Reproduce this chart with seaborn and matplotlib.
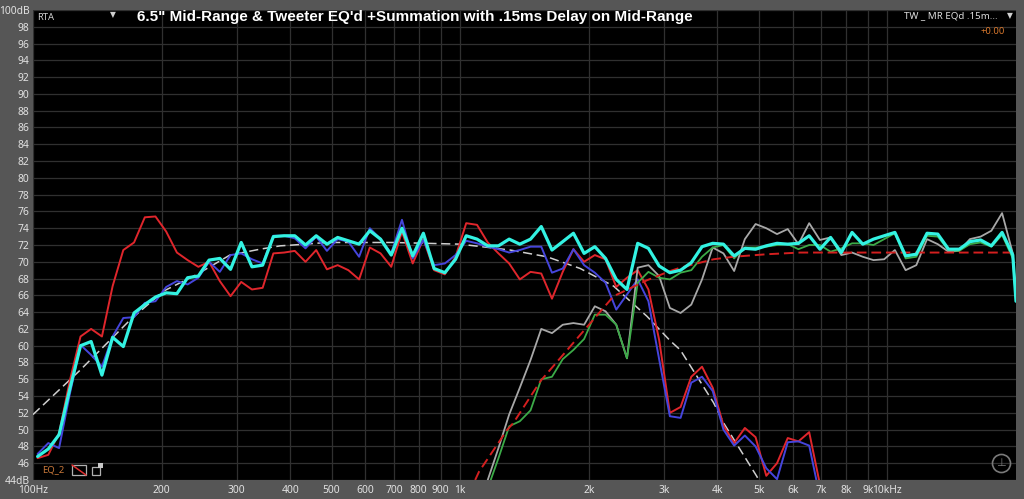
import numpy as np
import pandas as pd
import matplotlib.pyplot as plt
import seaborn as sns
from matplotlib.patches import Rectangle
from matplotlib.lines import Line2D

nan = np.nan

# RTA points, 1/12 octave (Hz) - last one is the 20k edge
freq = [102.5, 108.6, 115.1, 121.9, 129.2, 136.8, 145.0, 153.6, 162.7, 172.4,
        182.7, 193.5, 205.0, 217.2, 230.1, 243.8, 258.3, 273.7, 290.0, 307.2,
        325.5, 344.8, 365.3, 387.1, 410.0, 434.4, 460.2, 487.6, 516.6, 547.3,
        579.9, 614.4, 650.9, 689.6, 730.6, 774.1, 820.0, 868.8, 920.5, 975.2,
        1033, 1095, 1160, 1229, 1302, 1379, 1461, 1548, 1640, 1738,
        1841, 1950, 2066, 2189, 2319, 2457, 2603, 2758, 2922, 3096,
        3280, 3475, 3682, 3900, 4133, 4378, 4638, 4914, 5206, 5516,
        5844, 6191, 6560, 6950, 7363, 7801, 8265, 8756, 9277, 9828,
        10412, 11032, 11687, 12382, 13120, 13900, 14726, 15602, 16530, 17513,
        18554, 19657, 20000]

# summation (cyan)
sum_db = [46.8, 47.7, 49.4, 54.8, 60.0, 60.5, 56.5, 61.0, 59.9, 63.9,
          64.9, 65.8, 66.3, 66.2, 68.1, 68.3, 70.2, 70.4, 69.1, 72.3,
          69.4, 69.6, 73.0, 73.1, 73.1, 72.0, 73.1, 72.1, 72.9, 72.5,
          72.1, 73.7, 72.7, 70.8, 74.0, 70.7, 73.4, 69.2, 68.7, 70.3,
          73.1, 72.7, 71.9, 71.9, 72.7, 72.1, 72.7, 74.2, 71.4, 72.4,
          73.4, 71.0, 71.8, 70.4, 67.9, 66.7, 72.2, 71.6, 69.5, 68.7,
          69.0, 69.9, 71.8, 72.2, 72.1, 70.7, 71.6, 71.5, 71.9, 72.2,
          72.1, 72.2, 73.1, 71.5, 72.9, 71.1, 73.5, 72.1, 72.7, 73.1,
          73.5, 70.7, 70.9, 73.4, 73.3, 71.5, 71.5, 72.4, 72.6, 71.9,
          73.5, 70.8, 65.3]

# mid-range EQ'd (blue)
mid_eq_db = [47.1, 48.4, 47.8, 54.2, 60.1, 58.9, 57.5, 61.1, 63.3, 63.4,
             65.1, 65.3, 67.0, 67.7, 67.3, 68.1, 70.0, 68.8, 70.8, 71.0,
             70.3, 69.8, 73.1, 73.1, 72.8, 71.6, 73.0, 71.3, 72.7, 72.4,
             70.6, 74.0, 72.7, 71.0, 75.0, 70.4, 72.6, 69.6, 69.8, 70.8,
             72.5, 72.2, 71.8, 71.5, 71.1, 71.4, 71.8, 71.8, 68.7, 69.2,
             71.5, 69.6, 68.7, 67.5, 64.3, 66.1, 67.9, 65.3, 58.4, 51.6,
             51.4, 55.6, 56.3, 54.6, 50.0, 48.1, 49.3, 48.0, 45.4, 44.1,
             48.5, 48.6, 48.1, 42.0, 38.0] + [nan] * 18

# mid-range (red)
mid_db = [46.6, 47.0, 49.6, 55.8, 61.1, 62.0, 61.1, 67.1, 71.4, 72.3,
          75.3, 75.4, 73.6, 71.1, 70.2, 69.4, 70.0, 67.7, 65.9, 67.6,
          66.7, 66.9, 71.0, 71.1, 71.3, 70.0, 71.4, 69.1, 69.6, 69.0,
          67.9, 71.7, 71.0, 69.4, 73.6, 69.8, 72.7, 69.0, 68.5, 70.6,
          74.6, 74.4, 72.3, 71.0, 69.8, 67.9, 68.8, 68.6, 65.6, 68.8,
          71.5, 70.0, 70.8, 70.3, 67.0, 68.1, 69.0, 66.7, 60.7, 52.0,
          52.7, 56.3, 57.5, 55.0, 50.5, 48.4, 50.2, 49.1, 44.5, 46.0,
          49.0, 48.6, 49.7, 43.5, 38.0] + [nan] * 18

# tweeter EQ'd (green)
tw_eq_db = [nan] * 41 + [
    40.0, 43.0, 46.6, 50.4, 51.0, 52.3, 56.0, 56.3, 58.4,
    59.5, 60.8, 63.7, 63.7, 62.5, 58.5, 67.5, 68.8, 68.1, 67.9,
    68.7, 69.0, 70.6, 71.7, 72.0, 70.4, 71.7, 71.7, 71.8, 72.0,
    72.1, 71.5, 72.0, 72.0, 71.2, 71.6, 72.2, 72.2, 72.0, 72.7,
    73.4, 70.4, 70.6, 73.1, 73.0, 71.4, 71.3, 72.1, 72.3, 71.8,
    73.2, 70.4, 65.3]

# tweeter (gray)
tw_db = [nan] * 41 + [
    40.0, 44.0, 47.8, 51.8, 55.0, 58.3, 62.0, 61.5, 62.5,
    62.7, 62.5, 64.7, 64.1, 62.5, 58.5, 69.3, 69.6, 68.3, 64.5,
    63.9, 64.9, 67.9, 71.7, 71.0, 68.9, 72.7, 74.5, 74.0, 73.3,
    73.9, 72.1, 74.6, 72.6, 72.9, 70.8, 71.1, 70.6, 70.2, 70.3,
    71.4, 69.0, 69.6, 72.7, 72.1, 71.2, 71.3, 72.7, 73.0, 73.7,
    75.8, 71.0, 65.5]

# target curves
mid_target_freq = [100, 129, 169, 202, 242, 289, 340, 379, 407, 487, 698, 1000,
                   1309, 1596, 1910, 2286, 2737, 3100, 3275, 3919, 4136, 4951, 5200]
mid_target_db = [51.8, 57.1, 63.1, 66.5, 68.5, 70.8, 71.5, 71.9, 72.0, 72.3, 72.3, 72.1,
                 71.4, 70.6, 69.2, 67.1, 63.5, 60.6, 59.5, 53.2, 50.8, 44.4, 42.0]
tw_target_freq = [1084, 1107, 1289, 1332, 1542, 1910, 2286, 2737, 3100, 3275,
                  3919, 4364, 5224, 6254, 8000, 12000, 20000]
tw_target_db = [44.0, 45.0, 50.0, 50.8, 55.8, 61.3, 65.9, 67.8, 68.9, 69.3,
                70.3, 70.6, 70.9, 71.1, 71.1, 71.1, 71.1]

x_ticks = [100, 200, 300, 400, 500, 600, 700, 800, 900, 1000,
           2000, 3000, 4000, 5000, 6000, 7000, 8000, 9000, 10000]
x_labels = ['100Hz', '200', '300', '400', '500', '600', '700', '800', '900', '1k',
            '2k', '3k', '4k', '5k', '6k', '7k', '8k', '9k', '10kHz']
y_ticks = list(range(44, 101, 2))
y_labels = ['44dB'] + [str(v) for v in y_ticks[1:-1]] + ['100dB']

sns.set_theme(style='dark')
plt.rcParams['font.family'] = ['Noto Sans', 'DejaVu Sans']

fig = plt.figure(figsize=(10.24, 4.99), dpi=100, facecolor='#565656')
ax = fig.add_axes([33 / 1024, 19 / 499, 983 / 1024, 470 / 499])
ax.set_facecolor('black')

kw = dict(ax=ax, estimator=None, sort=False, legend=False)
sns.lineplot(x=mid_target_freq, y=mid_target_db, color='#cfcfcf', lw=1.1,
             linestyle=(0, (6, 3)), **kw)
sns.lineplot(x=freq, y=mid_db, color='#e0262c', lw=1.4, **kw)
sns.lineplot(x=freq, y=mid_eq_db, color='#4545dc', lw=1.4, **kw)
sns.lineplot(x=freq, y=tw_db, color='#a8a8a8', lw=1.3, **kw)
sns.lineplot(x=freq, y=tw_eq_db, color='#3cab48', lw=1.3, **kw)
sns.lineplot(x=tw_target_freq, y=tw_target_db, color='#d41f1f', lw=1.4,
             linestyle=(0, (5, 2.5)), **kw)
sns.lineplot(x=freq, y=sum_db, color='#33f2e2', lw=2.3, **kw)

ax.set_xscale('log')
ax.set_xlim(100, 20000)
ax.set_ylim(44, 100)
ax.set_xticks(x_ticks)
ax.set_xticklabels(x_labels)
ax.xaxis.set_minor_locator(plt.NullLocator())
ax.set_yticks(y_ticks)
ax.set_yticklabels(y_labels)
ax.set_xlabel('')
ax.set_ylabel('')
ax.grid(True, color='#303030', lw=0.9)
ax.set_axisbelow(True)
for s in ax.spines.values():
    s.set_visible(False)
ax.tick_params(axis='both', length=0, labelsize=7.4, colors='#e2e2e2')
ax.tick_params(axis='y', pad=2.5)
ax.tick_params(axis='x', pad=3.5)

# header texts
fig.text(137 / 1024, 1 - 17 / 499, "6.5\" Mid-Range & Tweeter EQ'd +Summation with .15ms Delay on Mid-Range",
         family='Liberation Sans', weight='bold', fontsize=10.95, color='white', va='center', ha='left')
fig.text(37 / 1024, 1 - 18 / 499, 'RTA', fontsize=6.8, color='#d0d0d0', va='center')
fig.text(113 / 1024, 1 - 15 / 499, '\u25bc', family='DejaVu Sans', fontsize=5.5, color='#d0d0d0',
         va='center', ha='center')
fig.text(998 / 1024, 1 - 16 / 499, 'TW _ MR EQd .15m...', fontsize=7, color='#dcdcdc',
         va='center', ha='right')
fig.text(1010 / 1024, 1 - 16 / 499, '\u25bc', family='DejaVu Sans', fontsize=5.5, color='#d0d0d0',
         va='center', ha='center')
fig.text(1005 / 1024, 1 - 32 / 499, '+0.00', fontsize=6.8, color='#d9782d', va='center', ha='right')

# bottom left EQ widget
fig.text(42 / 1024, 1 - 470 / 499, 'EQ_2', fontsize=6.8, color='#c8783a', va='center', ha='left')
fig.add_artist(Rectangle((72 / 1024, 24 / 499), 14 / 1024, 10 / 499, transform=fig.transFigure,
                         fill=False, ec='#b0b0b0', lw=0.9))
fig.add_artist(Line2D([72 / 1024, 86 / 1024], [34 / 499, 24 / 499], transform=fig.transFigure,
                      color='#e03030', lw=1.1))
fig.add_artist(Rectangle((92 / 1024, 24 / 499), 8 / 1024, 8 / 499, transform=fig.transFigure,
                         fill=False, ec='#b0b0b0', lw=0.9))
fig.add_artist(Rectangle((98 / 1024, 31 / 499), 5 / 1024, 5 / 499, transform=fig.transFigure,
                         fc='#c8c8c8', ec='none'))

# logo circle bottom right
fig.add_artist(Line2D([1001 / 1024], [1 - 463 / 499], transform=fig.transFigure, marker='o',
                      ms=13, mfc='none', mec='#7a7a7a', mew=1.2))
fig.text(1001 / 1024, 1 - 463 / 499, '\u22a5', family='DejaVu Sans', fontsize=8, color='#7a7a7a',
         va='center', ha='center')

fig.savefig('out.png', dpi=100, facecolor=fig.get_facecolor())
